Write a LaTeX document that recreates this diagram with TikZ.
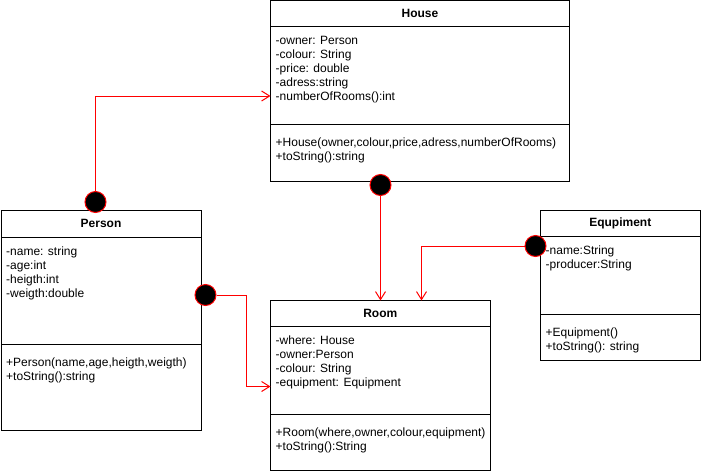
\documentclass[tikz,border=0pt]{standalone}
\usepackage{fontspec}
\setmainfont{Liberation Sans}
\usetikzlibrary{arrows.meta}
\definecolor{link}{HTML}{FF0000}
\tikzset{
  classhead/.style={
    draw=black,
    line width=1pt,
    anchor=north west,
    inner sep=0pt,
    outer sep=0pt,
    minimum height=26pt,
    font=\fontsize{12}{14}\selectfont\bfseries
  },
  classpart/.style={draw=black,line width=1pt,anchor=north west,inner sep=0pt,outer sep=0pt},
  members/.style={anchor=north west,inner sep=0pt,align=left,font=\fontsize{12}{14}\selectfont},
  joint/.style={circle,fill=black,draw=link,line width=1pt,minimum size=21pt,inner sep=0pt},
  assoc/.style={-{Straight Barb[length=8pt,width=10pt]},line width=1pt,draw=link}
}

\begin{document}
\begin{tikzpicture}[x=1pt,y=-1pt]
  \useasboundingbox (0,0) rectangle (701,474);

  % House
  \node[classhead,minimum width=299pt] (house) at (270.5,0.5) {House};
  \node[classpart,minimum width=299pt,minimum height=98pt] (houseattr) at (house.south west) {};
  \node[classpart,minimum width=299pt,minimum height=56.5pt] (houseops) at (houseattr.south west) {};
  \node[members] (houseattrtext) at ([shift={(5,8.2)}]houseattr.north west) {
    \strut-owner: Person\\
    -colour: String\\
    -price: double\\
    -adress:string\\
    -numberOfRooms():int
  };
  \node[members] (houseopstext) at ([shift={(5,12.2)}]houseops.north west) {
    \strut+House(owner,colour,price,adress,numberOfRooms)\\
    +toString():string
  };

  % Person
  \node[classhead,minimum width=200pt,minimum height=26.5pt] (person) at (1,210.5) {Person};
  \node[classpart,minimum width=200pt,minimum height=107pt] (personattr) at (person.south west) {};
  \node[classpart,minimum width=200pt,minimum height=86.5pt] (personops) at (personattr.south west) {};
  \node[members] (personattrtext) at ([shift={(5,8.2)}]personattr.north west) {
    \strut-name: string\\
    -age:int\\
    -heigth:int\\
    -weigth:double
  };
  \node[members] (personopstext) at ([shift={(5,12.2)}]personops.north west) {
    \strut+Person(name,age,heigth,weigth)\\
    +toString():string
  };

  % Room
  \node[classhead,minimum width=219.5pt] (room) at (270.5,300.5) {Room};
  \node[classpart,minimum width=219.5pt,minimum height=87.5pt] (roomattr) at (room.south west) {};
  \node[classpart,minimum width=219.5pt,minimum height=56pt] (roomops) at (roomattr.south west) {};
  \node[members] (roomattrtext) at ([shift={(5,8.2)}]roomattr.north west) {
    \strut-where: House\\
    -owner:Person\\
    -colour: String\\
    -equipment: Equipment
  };
  \node[members] (roomopstext) at ([shift={(5,12.2)}]roomops.north west) {
    \strut+Room(where,owner,colour,equipment)\\
    +toString():String
  };

  % Equipment
  \node[classhead,minimum width=159.5pt] (equipment) at (540.5,210.5) {Equpiment};
  \node[classpart,minimum width=159.5pt,minimum height=77.5pt] (equipattr) at (equipment.south west) {};
  \node[classpart,minimum width=159.5pt,minimum height=46pt] (equipops) at (equipattr.south west) {};
  \node[members] (equipattrtext) at ([shift={(5,8.2)}]equipattr.north west) {
    \strut-name:String\\
    -producer:String
  };
  \node[members] (equipopstext) at ([shift={(5,12.2)}]equipops.north west) {
    \strut+Equipment()\\
    +toString(): string
  };

  % association ends
  \node[joint] (pjoint) at (95.5,202) {};
  \node[joint] (hjoint) at (380.5,185) {};
  \node[joint] (ejoint) at (535.5,246) {};
  \node[joint] (wjoint) at (205.5,295) {};

  \coordinate (houseIn) at (270.5,96);
  \coordinate (roomIn) at (421.5,300.5);
  \coordinate (roomSide) at (270.5,386.5);

  \draw[assoc] (pjoint.north) |- (houseIn);
  \draw[assoc] (hjoint.south) -- (hjoint.south |- room.north);
  \draw[assoc] (ejoint.west) -| (roomIn);
  \draw[assoc] (wjoint.east) -- ++(29.5,0) |- (roomSide);
\end{tikzpicture}
\end{document}
